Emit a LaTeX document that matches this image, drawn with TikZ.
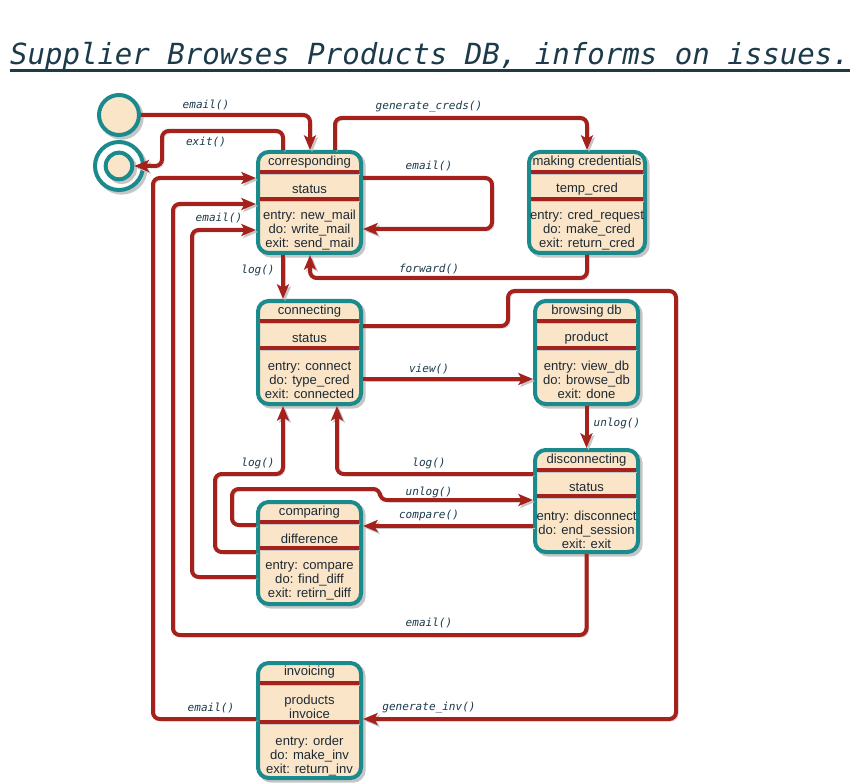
\documentclass[tikz,border=0pt]{standalone}
\usepackage{fontspec}
\setmainfont{Liberation Sans}
\newfontfamily\monofont{DejaVu Sans Mono}
\usetikzlibrary{arrows.meta,fit}
\definecolor{stateteal}{HTML}{1A8A8C}
\definecolor{statefill}{HTML}{FAE5C8}
\definecolor{linkred}{HTML}{A5221C}
\definecolor{inkblue}{HTML}{1B3A4A}
\definecolor{statetext}{HTML}{1E2A33}
\definecolor{shadowgray}{HTML}{C6C6C6}
\begin{document}
\begin{tikzpicture}[x=0.75pt,y=-0.75pt,
    statebox/.style={draw=stateteal, line width=3pt, fill=statefill, rounded corners=8pt, inner sep=0pt,
      preaction={draw=shadowgray, fill=shadowgray, transform canvas={xshift=2pt,yshift=-2pt}}},
    pseudo/.style={circle, draw=stateteal, line width=3pt, fill=statefill, inner sep=0pt,
      preaction={draw=shadowgray, fill=shadowgray, transform canvas={xshift=2pt,yshift=-2pt}}},
    sepline/.style={draw=linkred, line width=3pt,
      preaction={draw=shadowgray, transform canvas={xshift=1pt,yshift=-1.5pt}}},
    link/.style={draw=linkred, line width=3pt, rounded corners=5pt, -{Stealth[length=11pt,width=9pt,inset=2.5pt]},
      preaction={draw=shadowgray, transform canvas={xshift=1.5pt,yshift=-1.5pt}}},
    stxt/.style={font=\fontsize{9.8}{10.5}\selectfont, text=statetext, align=center, inner sep=0pt},
    lbl/.style={font=\monofont\itshape\fontsize{8.3}{10}\selectfont, text=inkblue, inner sep=0pt}]
    \useasboundingbox (0,0) rectangle (860,784);

    \node[font=\monofont\itshape\fontsize{21.8}{24}\selectfont, text=inkblue, anchor=base, inner sep=0pt] (title) at (430,65) {Supplier Browses Products DB, informs on issues.};
    \draw[inkblue, line width=2.4pt] ([yshift=-4pt]title.base west) -- ([yshift=-4pt]title.base east);

    \node[pseudo, minimum size=30pt] (init) at (119,115) {};
    \node[pseudo, minimum size=36pt, fill=white] (final) at (119,166) {};
    \node[pseudo, minimum size=20pt] (final-in) at (119,166) {};

    \node[statebox, fit={(258,152) (361,253)}] (corr) {};
    \draw[sepline] (260,172) -- (359,172);
    \draw[sepline] (260,199) -- (359,199);
    \node[stxt] (corr-t) at (309.5,162) {corresponding};
    \node[stxt] (corr-v) at (309.5,189) {status};
    \node[stxt] (corr-a) at (309.5,230) {entry: new\_mail\\do: write\_mail\\exit: send\_mail};

    \node[statebox, fit={(529,152) (645,253)}] (cred) {};
    \draw[sepline] (531,172) -- (643,172);
    \draw[sepline] (531,199) -- (643,199);
    \node[stxt] (cred-t) at (587,162) {making credentials};
    \node[stxt] (cred-v) at (587,189) {temp\_cred};
    \node[stxt] (cred-a) at (587,230) {entry: cred\_request\\do: make\_cred\\exit: return\_cred};

    \node[statebox, fit={(258,301) (361,404)}] (conn) {};
    \draw[sepline] (260,321) -- (359,321);
    \draw[sepline] (260,348) -- (359,348);
    \node[stxt] (conn-t) at (309.5,311) {connecting};
    \node[stxt] (conn-v) at (309.5,338) {status};
    \node[stxt] (conn-a) at (309.5,380) {entry: connect\\do: type\_cred\\exit: connected};

    \node[statebox, fit={(535,301) (638,404)}] (brow) {};
    \draw[sepline] (537,321) -- (636,321);
    \draw[sepline] (537,348) -- (636,348);
    \node[stxt] (brow-t) at (586.5,311) {browsing db};
    \node[stxt] (brow-v) at (586.5,338) {product};
    \node[stxt] (brow-a) at (586.5,380) {entry: view\_db\\do: browse\_db\\exit: done};

    \node[statebox, fit={(535,450) (638,552)}] (disc) {};
    \draw[sepline] (537,470) -- (636,470);
    \draw[sepline] (537,496) -- (636,496);
    \node[stxt] (disc-t) at (586.5,460) {disconnecting};
    \node[stxt] (disc-v) at (586.5,487) {status};
    \node[stxt] (disc-a) at (586.5,530) {entry: disconnect\\do: end\_session\\exit: exit};

    \node[statebox, fit={(258,502) (361,604)}] (comp) {};
    \draw[sepline] (260,522) -- (359,522);
    \draw[sepline] (260,548) -- (359,548);
    \node[stxt] (comp-t) at (309.5,512) {comparing};
    \node[stxt] (comp-v) at (309.5,539) {difference};
    \node[stxt] (comp-a) at (309.5,581) {entry: compare\\do: find\_diff\\exit: retirn\_diff};

    \node[statebox, fit={(258,663) (361,778)}] (inv) {};
    \draw[sepline] (260,683) -- (359,683);
    \draw[sepline] (260,722) -- (359,722);
    \node[stxt] (inv-t) at (309.5,672) {invoicing};
    \node[stxt] (inv-v) at (309.5,707) {products\\invoice};
    \node[stxt] (inv-a) at (309.5,756) {entry: order\\do: make\_inv\\exit: return\_inv};

    \draw[link] (init.east) -| (310,0 |- corr.north);
    \draw[link] (283,0 |- corr.north) |- (162,131) |- (final-in.east);
    \draw[link] (335,0 |- corr.north) |- (cred.north |- 0,118) -- (cred.north);
    \draw[link] (corr.east |- 0,178) -- (492,178) -- (492,229) -- (corr.east |- 0,229);
    \draw[link] (cred.south) |- (310,278) -- (310,0 |- corr.south);
    \draw[link] (283,0 |- corr.south) -- (283,0 |- conn.north);
    \draw[link] (conn.east |- 0,326) -- (508,326) -- (508,291) -- (676,291) |- (inv.east |- 0,719);
    \draw[link] (conn.east |- 0,379) -- (brow.west |- 0,379);
    \draw[link] (brow.south) -- (disc.north);
    \draw[link] (disc.west |- 0,474) -| (337,0 |- conn.south);
    \draw[link] (comp.west |- 0,525) -- (232,525) -- (232,489) -- (380,489) -- (380,500) -- (disc.west |- 0,500);
    \draw[link] (disc.west |- 0,526) -- (comp.east |- 0,526);
    \draw[link] (comp.west |- 0,552) -- (215,552) -- (215,474) -| (283,0 |- conn.south);
    \draw[link] (comp.west |- 0,577) -- (192,577) |- (corr.west |- 0,230);
    \draw[link] (disc.south) |- (173,635) |- (corr.west |- 0,204);
    \draw[link] (inv.west |- 0,719) -| (153,178) -- (corr.west |- 0,178);

    \node[lbl] (l-email-init) at (206,105) {email()};
    \node[lbl] (l-exit) at (206,142) {exit()};
    \node[lbl] (l-gencreds) at (429,107) {generate\_creds()};
    \node[lbl] (l-email-self) at (429,166) {email()};
    \node[lbl] (l-forward) at (429,269) {forward()};
    \node[lbl] (l-log-corr) at (258,270) {log()};
    \node[lbl] (l-email-comp) at (219,218) {email()};
    \node[lbl] (l-view) at (429,369) {view()};
    \node[lbl] (l-unlog-brow) at (617,423) {unlog()};
    \node[lbl] (l-log-disc) at (429,463) {log()};
    \node[lbl] (l-log-comp) at (258,463) {log()};
    \node[lbl] (l-unlog-comp) at (429,492) {unlog()};
    \node[lbl] (l-compare) at (429,515) {compare()};
    \node[lbl] (l-email-disc) at (429,623) {email()};
    \node[lbl] (l-email-inv) at (211,708) {email()};
    \node[lbl] (l-geninv) at (429,708) {generate\_inv()};
\end{tikzpicture}
\end{document}
